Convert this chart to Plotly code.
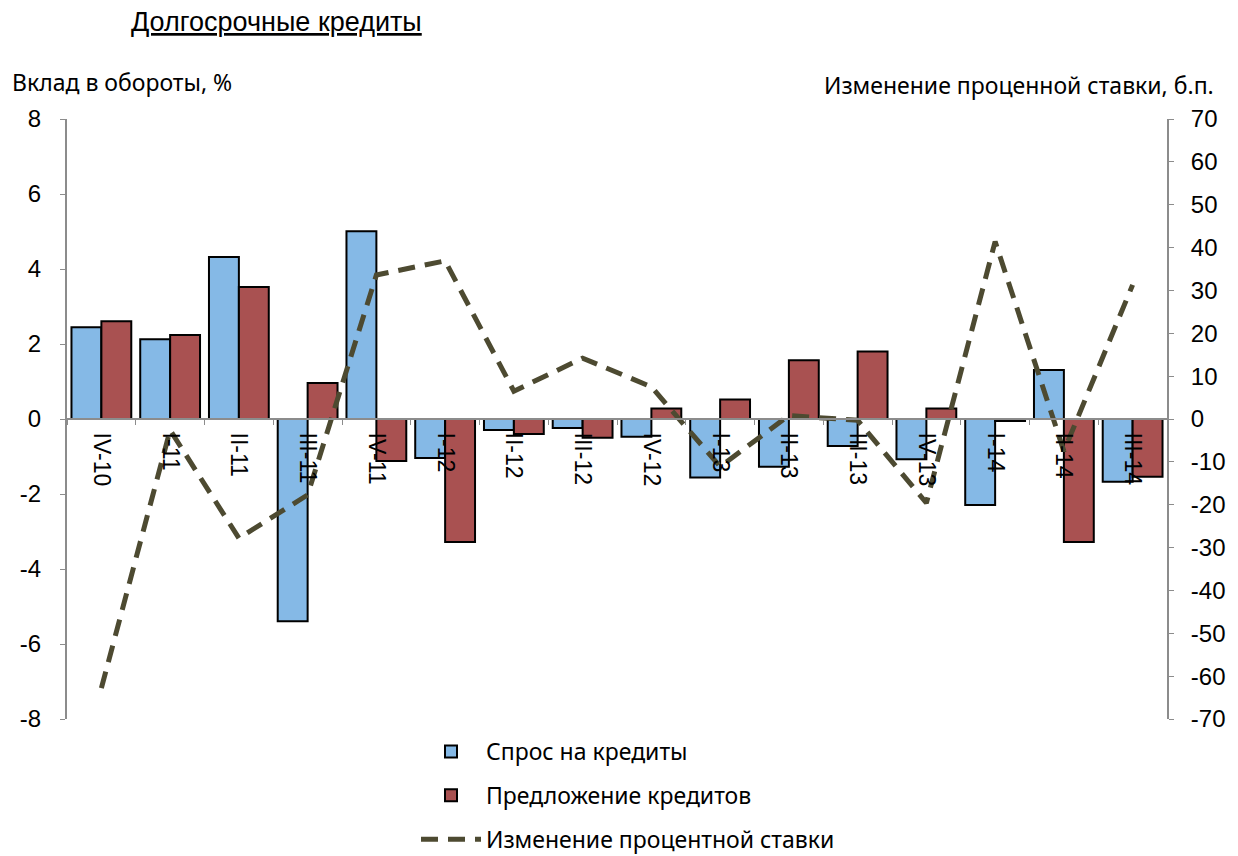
import plotly.graph_objects as go

# Quarters
quarters = ["IV-10", "I-11", "II-11", "III-11", "IV-11", "I-12", "II-12", "III-12",
            "IV-12", "I-13", "II-13", "III-13", "IV-13", "I-14", "II-14", "III-14"]

# Contribution to turnover, %
demand = [2.45, 2.13, 4.32, -5.39, 5.01, -1.04, -0.29, -0.24,
          -0.47, -1.56, -1.27, -0.72, -1.07, -2.29, 1.31, -1.67]
supply = [2.61, 2.24, 3.52, 0.96, -1.12, -3.28, -0.40, -0.50,
          0.28, 0.52, 1.57, 1.80, 0.28, -0.05, -3.28, -1.54]

# Change in interest rate, b.p.
rate_change = [-62.8, -2.6, -27.8, -17.7, 33.6, 36.9, 6.5, 14.2,
               7.5, -11.1, 0.8, -0.3, -19.6, 41.4, -7.5, 31.3]

# Axis ticks (plain hyphen for negatives)
left_ticks = list(range(-8, 9, 2))
right_ticks = list(range(-70, 71, 10))
left_labels = [str(v) for v in left_ticks]
right_labels = [str(v) for v in right_ticks]

BLUE = "#85B9E6"
RED = "#A95151"
LINE = "#4D4A31"
AXIS = "#8C8C8C"
ARIAL = "Liberation Sans, Arial"
TICK_FONT = dict(family=ARIAL, size=24, color="black")
TEXT_FONT = dict(family="Noto Sans, Open Sans", size=23, color="black")

W, H = 1238, 856
TOP, PLOT_BOTTOM = 119, 719          # plot area edges, px from top
LEFT, RIGHT = 67, 1167
REGION_H = H - TOP                   # paper height with zero bottom margin


def py(px):
    """Page pixel row -> paper y."""
    return (H - px) / REGION_H


def px_x(px):
    """Page pixel column -> paper x."""
    return (px - LEFT) / (RIGHT - LEFT)


fig = go.Figure()
fig.add_trace(go.Bar(
    x=quarters, y=demand, name="Спрос на кредиты",
    marker=dict(color=BLUE, line=dict(color="black", width=2)),
    legendgroup="a",
))
fig.add_trace(go.Bar(
    x=quarters, y=supply, name="Предложение кредитов",
    marker=dict(color=RED, line=dict(color="black", width=2)),
    legendgroup="b",
))
fig.add_trace(go.Scatter(
    x=quarters, y=rate_change, name="Изменение процентной ставки",
    mode="lines", yaxis="y2",
    line=dict(color=LINE, width=5, dash="17px,10px"),
    legendgroup="c",
))

fig.update_layout(
    width=W, height=H,
    margin=dict(l=LEFT, r=W - RIGHT, t=TOP, b=0, autoexpand=False),
    paper_bgcolor="white", plot_bgcolor="white",
    barmode="group", bargap=0.13, bargroupgap=0,
    showlegend=True,
    legend=dict(
        x=px_x(416), y=py(730), xanchor="left", yanchor="top",
        orientation="v", font=TEXT_FONT, tracegroupgap=11,
        itemwidth=60, bgcolor="rgba(0,0,0,0)",
    ),
    xaxis=dict(
        type="category", anchor="free", position=py(419),
        showline=True, linecolor=AXIS, linewidth=2,
        ticks="outside", tickson="boundaries", ticklen=5, tickcolor=AXIS,
        tickangle=90, tickfont=dict(family=ARIAL, size=23, color="black"),
        ticklabelstandoff=8, automargin=False,
        showgrid=False, zeroline=False,
    ),
    yaxis=dict(
        domain=[py(PLOT_BOTTOM), 1],
        range=[-8, 8], tickvals=left_ticks, ticktext=left_labels, tickfont=TICK_FONT,
        showline=True, linecolor=AXIS, linewidth=2,
        ticks="outside", ticklen=5, tickcolor=AXIS, ticklabelstandoff=14,
        showgrid=False, zeroline=False,
    ),
    yaxis2=dict(
        range=[-70, 70], tickvals=right_ticks, ticktext=right_labels, tickfont=TICK_FONT,
        overlaying="y", side="right",
        showline=True, linecolor=AXIS, linewidth=2,
        ticks="outside", ticklen=5, tickcolor=AXIS, ticklabelstandoff=12,
        showgrid=False, zeroline=False,
    ),
    annotations=[
        dict(text="<u>Долгосрочные кредиты</u>", xref="paper", yref="paper",
             x=px_x(276), y=py(22), xanchor="center", yanchor="middle",
             font=dict(family=ARIAL, size=27, color="black"), showarrow=False),
        dict(text="Вклад в обороты, %", xref="paper", yref="paper",
             x=px_x(10), y=py(82), xanchor="left", yanchor="middle",
             font=TEXT_FONT, showarrow=False),
        dict(text="Изменение проценной ставки, б.п.", xref="paper", yref="paper",
             x=px_x(1216), y=py(85), xanchor="right", yanchor="middle",
             font=TEXT_FONT, showarrow=False),
    ],
)

fig.write_html("out.html")
